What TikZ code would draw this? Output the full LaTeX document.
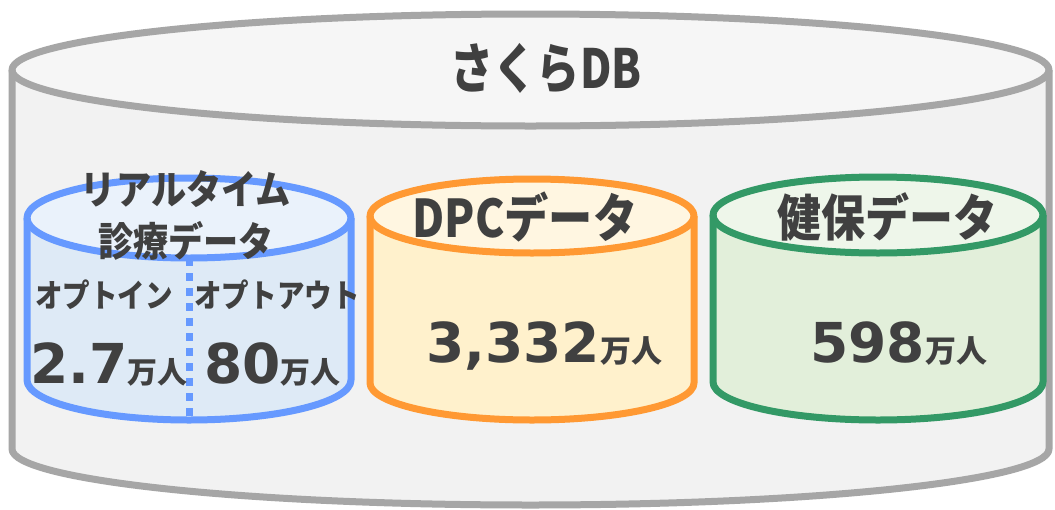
\documentclass[tikz,border=0pt]{standalone}
\usepackage{fontspec}
\newfontfamily\jp{Noto Sans CJK JP}
\newfontfamily\num{DejaVu Sans}
\definecolor{txt}{HTML}{404040}
\definecolor{gstroke}{HTML}{A6A6A6}
\definecolor{gtop}{HTML}{F6F6F6}
\definecolor{gbody}{HTML}{F2F2F2}
\definecolor{bstroke}{HTML}{6699FF}
\definecolor{btop}{HTML}{EAF2FB}
\definecolor{bbody}{HTML}{DEEAF6}
\definecolor{ostroke}{HTML}{FF9933}
\definecolor{otop}{HTML}{FFF6E1}
\definecolor{obody}{HTML}{FFF1CC}
\definecolor{grstroke}{HTML}{339966}
\definecolor{grtop}{HTML}{EEF6EA}
\definecolor{grbody}{HTML}{E2EFDA}
\newcommand\dbcyl[8]{%
  \fill[#8] (#1-#4,#2) -- (#1-#4,#3) arc[start angle=180,end angle=0,x radius=#4,y radius=#5] -- (#1+#4,#2) -- cycle;
  \fill[#7] (#1,#2) ellipse[x radius=#4,y radius=#5];
  \draw[#6, cylline] (#1-#4,#2) -- (#1-#4,#3) arc[start angle=180,end angle=0,x radius=#4,y radius=#5] -- (#1+#4,#2);
  \draw[#6, cylline] (#1,#2) ellipse[x radius=#4,y radius=#5];
}
\tikzset{
  cylline/.style={line width=7pt, line join=round},
  lbl/.style={text=txt, inner sep=0pt, anchor=base},
  numlbl/.style={text=txt, inner sep=0pt, anchor=base west},
}
\newcommand\bignum[1]{{\num\bfseries\fontsize{55}{55}\selectfont #1}}
\newcommand\mannin[1]{{\jp\bfseries\fontsize{#1}{#1}\selectfont 万人}}
\begin{document}
\begin{tikzpicture}[x=1pt,y=-1pt]
\useasboundingbox[fill=white] (0,0) rectangle (1055,509);
% main database cylinder
\dbcyl{530.5}{70}{449}{518.5}{56}{gstroke}{gtop}{gbody}
% inner cylinders
\dbcyl{189}{218}{380}{162}{40}{bstroke}{btop}{bbody}
\dbcyl{532}{216}{383}{162}{37}{ostroke}{otop}{obody}
\dbcyl{878}{215}{382}{165}{38}{grstroke}{grtop}{grbody}
% split line in the real-time cylinder
\coordinate (splittop) at (189,258);
\coordinate (splitbot) at (189,419);
\draw[bstroke, line width=7pt, dash pattern=on 8pt off 7pt] (splittop) -- (splitbot);
% labels
\node[lbl, font=\jp\bfseries\fontsize{54}{54}\selectfont, xscale=0.8] (title) at (546,88) {さくらDB};
\node[lbl, font=\jp\bfseries\fontsize{40}{40}\selectfont, xscale=0.88] (rt1) at (186,204) {リアルタイム};
\node[lbl, font=\jp\bfseries\fontsize{40}{40}\selectfont, xscale=0.88] (rt2) at (186,256) {診療データ};
\node[lbl, font=\jp\bfseries\fontsize{32}{32}\selectfont, xscale=0.86] (optin) at (104,307) {オプトイン};
\node[lbl, font=\jp\bfseries\fontsize{32}{32}\selectfont, xscale=0.86] (optout) at (277,307) {オプトアウト};
\node[lbl, font=\jp\bfseries\fontsize{52}{52}\selectfont, xscale=0.85] (dpc) at (525,237) {DPCデータ};
\node[lbl, font=\jp\bfseries\fontsize{50}{50}\selectfont, xscale=0.88] (kenpo) at (887,236) {健保データ};
\node[numlbl] (nin) at (30,383) {\bignum{2.7}\mannin{30}};
\node[numlbl] (nout) at (204,383) {\bignum{80}\mannin{30}};
\node[numlbl] (ndpc) at (426,362) {\bignum{3,332}\mannin{31}};
\node[numlbl] (nkenpo) at (810,362) {\bignum{598}\mannin{31}};
\end{tikzpicture}
\end{document}
